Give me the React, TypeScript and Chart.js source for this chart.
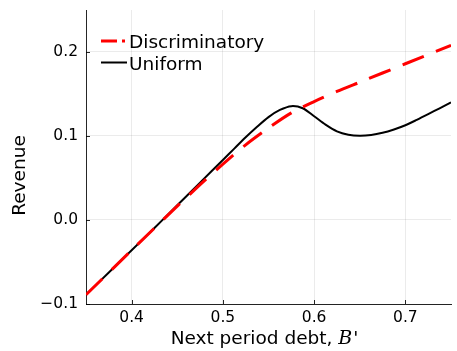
import React, { useEffect, useRef } from "react";
import { Chart, registerables } from "chart.js";

Chart.register(...registerables);

const xUniform = [0.35, 0.375, 0.4, 0.425, 0.45, 0.475, 0.5, 0.5125, 0.525, 0.5375, 0.55, 0.5625, 0.575, 0.5875, 0.6, 0.6125, 0.625, 0.6375, 0.65, 0.6625, 0.675, 0.6875, 0.7, 0.7125, 0.725, 0.7375, 0.75];
const yUniform = [-0.089, -0.0625, -0.036, -0.0095, 0.0175, 0.0445, 0.0715, 0.085, 0.0985, 0.111, 0.1225, 0.131, 0.1355, 0.133, 0.1235, 0.1135, 0.1055, 0.1015, 0.1003, 0.1012, 0.1038, 0.1078, 0.1128, 0.1192, 0.126, 0.133, 0.14];

const xDiscrim = [0.35, 0.4, 0.45, 0.475, 0.5, 0.525, 0.55, 0.575, 0.6, 0.625, 0.65, 0.7, 0.75];
const yDiscrim = [-0.089, -0.036, 0.0165, 0.042, 0.0665, 0.0895, 0.1095, 0.1275, 0.141, 0.153, 0.164, 0.186, 0.208];

const xTicks = [0.4, 0.5, 0.6, 0.7];
const yTicks = [-0.1, 0.0, 0.1, 0.2];

const seriesNames = ["Discriminatory", "Uniform"];
const xTitle = "Next period debt, ";
const xTitleVar = "B";
const yTitle = "Revenue";

const FONT = "'DejaVu Sans', sans-serif";
const AXIS_COLOR = "rgba(0,0,0,0.85)";

const fmt = (v: number) => (v < 0 ? "\u2212" + Math.abs(v).toFixed(1) : v.toFixed(1));

const decorPlugin = {
  id: "decor",
  afterDraw(chart: any) {
    const ctx = chart.ctx;
    const ca = chart.chartArea;
    const xs = chart.scales.x;
    const ys = chart.scales.y;
    ctx.save();
    // inside tick marks
    ctx.strokeStyle = AXIS_COLOR;
    ctx.lineWidth = 1;
    ctx.beginPath();
    xTicks.forEach((v) => {
      const px = Math.round(xs.getPixelForValue(v)) + 0.5;
      ctx.moveTo(px, ca.bottom);
      ctx.lineTo(px, ca.bottom - 4);
    });
    yTicks.forEach((v) => {
      const py = Math.round(ys.getPixelForValue(v)) + 0.5;
      ctx.moveTo(ca.left, py);
      ctx.lineTo(ca.left + 4, py);
    });
    ctx.stroke();

    // legend
    const lx = ca.left + 15;
    const ly1 = ca.top + 31;
    const ly2 = ca.top + 52.5;
    ctx.strokeStyle = "#ff0000";
    ctx.lineWidth = 3;
    ctx.setLineDash([16, 5]);
    ctx.beginPath();
    ctx.moveTo(lx, ly1);
    ctx.lineTo(lx + 24, ly1);
    ctx.stroke();
    ctx.setLineDash([]);
    ctx.strokeStyle = "#000";
    ctx.lineWidth = 2;
    ctx.beginPath();
    ctx.moveTo(lx, ly2);
    ctx.lineTo(lx + 26, ly2);
    ctx.stroke();
    ctx.fillStyle = "#000";
    ctx.font = "18.5px " + FONT;
    ctx.textAlign = "left";
    ctx.textBaseline = "alphabetic";
    ctx.fillText(seriesNames[0], lx + 28, ly1 + 7);
    ctx.fillText(seriesNames[1], lx + 28, ly2 + 7.5);

    // x title
    const base = "18.5px " + FONT;
    const ital = "italic 19px 'DejaVu Serif', serif";
    ctx.font = base;
    const w1 = ctx.measureText(xTitle).width;
    ctx.font = ital;
    const w2 = ctx.measureText(xTitleVar).width;
    ctx.font = base;
    const w3 = ctx.measureText("'").width;
    const total = w1 + w2 + w3 + 1;
    const x0 = (ca.left + ca.right) / 2 - 4 - total / 2;
    const by = 344;
    ctx.fillText(xTitle, x0, by);
    ctx.font = ital;
    ctx.fillText(xTitleVar, x0 + w1, by);
    ctx.font = base;
    ctx.fillText("'", x0 + w1 + w2 + 1, by);

    // y title
    ctx.save();
    ctx.translate(25, 175.5);
    ctx.rotate(-Math.PI / 2);
    ctx.textAlign = "center";
    ctx.fillText(yTitle, 0, 0);
    ctx.restore();

    ctx.restore();
  },
};

export default function App() {
  const ref = useRef<HTMLCanvasElement>(null);
  useEffect(() => {
    if (!ref.current) return;
    const chart = new Chart(ref.current, {
      type: "line",
      data: {
        datasets: [
          {
            label: seriesNames[0],
            data: xDiscrim.map((x, i) => ({ x, y: yDiscrim[i] })),
            borderColor: "#ff0000",
            borderWidth: 3,
            borderDash: [23, 13],
            pointRadius: 0,
            tension: 0.3,
            fill: false,
          },
          {
            label: seriesNames[1],
            data: xUniform.map((x, i) => ({ x, y: yUniform[i] })),
            borderColor: "#000000",
            borderWidth: 2,
            pointRadius: 0,
            tension: 0.3,
            fill: false,
          },
        ],
      },
      options: {
        animation: false,
        responsive: false,
        events: [],
        layout: { padding: { top: 10, right: 6, left: 0, bottom: 0 } },
        plugins: { legend: { display: false }, tooltip: { enabled: false } },
        scales: {
          x: {
            type: "linear",
            min: 0.35,
            max: 0.75,
            afterBuildTicks: (s: any) => {
              s.ticks = xTicks.map((v) => ({ value: v }));
            },
            afterFit: (s: any) => {
              s.height = 47;
              s.paddingLeft = 0;
              s.paddingRight = 0;
              s.paddingTop = 0;
              s.paddingBottom = 0;
            },
            ticks: {
              callback: (v: any) => fmt(Number(v)),
              font: { family: FONT, size: 15.5 },
              color: "#000",
              padding: 5,
              maxRotation: 0,
            },
            grid: { color: "rgba(0,0,0,0.08)", lineWidth: 1, drawTicks: false },
            border: { display: true, color: AXIS_COLOR, width: 1 },
          },
          y: {
            type: "linear",
            min: -0.1,
            max: 0.25,
            afterBuildTicks: (s: any) => {
              s.ticks = yTicks.map((v) => ({ value: v }));
            },
            afterFit: (s: any) => {
              s.width = 86;
              s.paddingLeft = 0;
              s.paddingRight = 0;
              s.paddingTop = 0;
              s.paddingBottom = 0;
            },
            ticks: {
              callback: (v: any) => fmt(Number(v)),
              font: { family: FONT, size: 15.5 },
              color: "#000",
              padding: 8,
            },
            grid: { color: "rgba(0,0,0,0.08)", lineWidth: 1, drawTicks: false },
            border: { display: true, color: AXIS_COLOR, width: 1 },
          },
        },
      },
      plugins: [decorPlugin],
    } as any);
    return () => chart.destroy();
  }, []);
  return (
    <div style={{ position: "absolute", left: 0, top: 0, width: 457, height: 351, background: "#fff" }}>
      <canvas ref={ref} width={457} height={351} style={{ display: "block" }} />
    </div>
  );
}
